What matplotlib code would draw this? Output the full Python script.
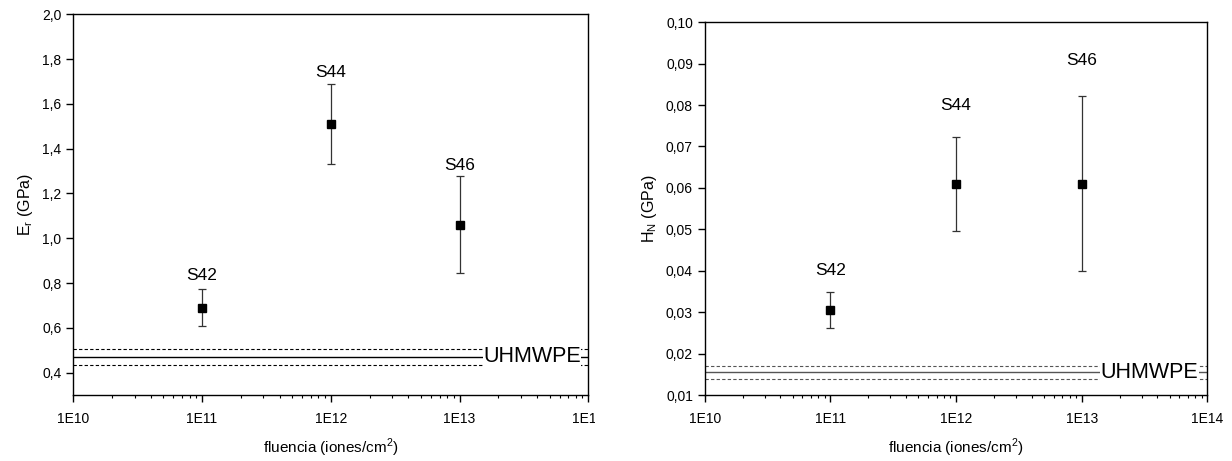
import numpy as np
import matplotlib
matplotlib.use("Agg")
import matplotlib.pyplot as plt
from matplotlib.patches import Rectangle
from matplotlib.ticker import FuncFormatter, LogLocator, NullFormatter, MultipleLocator

plt.rcParams['font.family'] = ['Liberation Sans', 'DejaVu Sans']
plt.rcParams['axes.linewidth'] = 1.0

# data
samples = ['S42', 'S44', 'S46']
fluence = [1e11, 1e12, 1e13]

er_vals = [0.69, 1.51, 1.06]
er_errs = [0.082, 0.180, 0.217]
er_label_y = [0.833, 1.741, 1.326]
er_ref, er_ref_err = 0.47, 0.035

hn_vals = [0.0305, 0.0610, 0.0610]
hn_errs = [0.0044, 0.0113, 0.0211]
hn_label_y = [0.0400, 0.0800, 0.0908]
hn_ref, hn_ref_err = 0.0155, 0.0015

W, H = 1232, 461
fig = plt.figure(figsize=(12.32, 4.61), dpi=100)
ax1 = fig.add_axes([0.0595, 0.143, 0.418, 0.826])
ax2 = fig.add_axes([0.572, 0.143, 0.408, 0.809])


def comma_fmt(nd):
    return FuncFormatter(lambda v, p: f"{v:.{nd}f}".replace('.', ','))


def sci_fmt(v, p):
    return f"1E{int(round(np.log10(v)))}"


def draw(ax, vals, errs, lab_y, ref, ref_err, ylim, ystep, nd, ylabel, line_col, text_x):
    ax.set_xscale('log')
    ax.set_xlim(1e10, 1e14)
    ax.set_ylim(*ylim)
    ax.errorbar(fluence, vals, yerr=errs, fmt='s', color='black', ms=5.5,
                ecolor='#333333', elinewidth=0.9, capsize=3, capthick=0.9)
    for s, x, y in zip(samples, fluence, lab_y):
        ax.text(x, y, s, ha='center', va='center', fontsize=12.5)
    ax.axhline(ref, color=line_col, lw=1.0)
    ax.axhline(ref + ref_err, color=line_col, lw=0.8, ls=(0, (3, 2)))
    ax.axhline(ref - ref_err, color=line_col, lw=0.8, ls=(0, (3, 2)))
    ax.text(text_x, ref, 'UHMWPE', ha='left', va='center', fontsize=15.5,
            bbox=dict(facecolor='white', edgecolor='none', pad=0.3))
    ax.yaxis.set_major_locator(MultipleLocator(ystep))
    ax.yaxis.set_major_formatter(comma_fmt(nd))
    ax.xaxis.set_major_locator(LogLocator(base=10, numticks=10))
    ax.xaxis.set_major_formatter(FuncFormatter(sci_fmt))
    ax.xaxis.set_minor_locator(LogLocator(base=10, subs=np.arange(2, 10), numticks=20))
    ax.xaxis.set_minor_formatter(NullFormatter())
    ax.tick_params(axis='both', which='major', direction='out', length=5, width=1.0, labelsize=10)
    ax.tick_params(axis='x', which='minor', direction='out', length=2.5, width=0.8)
    ax.tick_params(axis='x', pad=7)
    ax.set_ylabel(ylabel, fontsize=11.5, labelpad=5)
    ax.set_xlabel('fluencia (iones/cm$^\\mathregular{2}$)', fontsize=11, labelpad=8)


draw(ax1, er_vals, er_errs, er_label_y, er_ref, er_ref_err, (0.3, 2.0), 0.2, 1,
     'E$_\\mathregular{r}$ (GPa)', 'black', 1.52e13)
draw(ax2, hn_vals, hn_errs, hn_label_y, hn_ref, hn_ref_err, (0.01, 0.10), 0.01, 2,
     'H$_\\mathregular{N}$ (GPa)', '#555555', 1.42e13)

# the left panel's last tick label is cut off in the reference
fig.patches.append(Rectangle((595 / W, 1 - 430 / H), 25 / W, 35 / H,
                             transform=fig.transFigure, facecolor='white',
                             edgecolor='none', zorder=10))

fig.savefig('out.png', dpi=100)
